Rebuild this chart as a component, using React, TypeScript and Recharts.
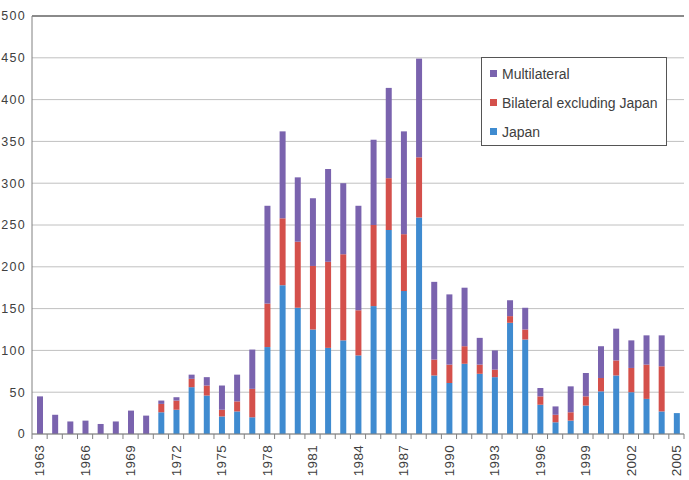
import { BarChart, Bar, XAxis, YAxis, CartesianGrid, Legend, ReferenceLine } from "recharts";

const years = [
  "1963", "1964", "1965", "1966", "1967", "1968", "1969", "1970", "1971", "1972",
  "1973", "1974", "1975", "1976", "1977", "1978", "1979", "1980", "1981", "1982",
  "1983", "1984", "1985", "1986", "1987", "1988", "1989", "1990", "1991", "1992",
  "1993", "1994", "1995", "1996", "1997", "1998", "1999", "2000", "2001", "2002",
  "2003", "2004", "2005",
];

const japan = [
  0, 0, 0, 0, 0, 0, 0, 0,
  26, 29, 56, 46, 21, 27, 20,
  104, 178, 151, 125, 103, 112, 94, 153, 244, 171, 259,
  70, 61, 84, 72, 68, 133, 113,
  35, 14, 16, 34, 51, 70, 50, 42, 27, 25,
];

const bilateral = [
  0, 0, 0, 0, 0, 0, 0, 0,
  10, 11, 10, 12, 8, 12, 34,
  52, 80, 79, 76, 103, 103, 54, 97, 62, 68, 72,
  19, 22, 21, 11, 9, 8, 12,
  10, 9, 10, 11, 16, 18, 29, 41, 54, 0,
];

const multilateral = [
  45, 23, 15, 16, 12, 15, 28, 22,
  4, 4, 5, 10, 29, 32, 47,
  117, 104, 77, 81, 111, 85, 125, 102, 108, 123, 118,
  93, 84, 70, 32, 23, 19, 26,
  10, 10, 31, 28, 38, 38, 33, 35, 37, 0,
];

const yTicks = [0, 50, 100, 150, 200, 250, 300, 350, 400, 450, 500];

const BLUE = "#3f8bd0";
const RED = "#d4504b";
const PURPLE = "#7a63ae";
const TEXT = "#404040";

const legendItems = [
  { name: "Multilateral", color: PURPLE },
  { name: "Bilateral excluding Japan", color: RED },
  { name: "Japan", color: BLUE },
];

const data = years.map((year, i) => ({
  year,
  japan: japan[i],
  bilateral: bilateral[i],
  multilateral: multilateral[i],
}));

// width of one category band (plot area spans 32..684)
const BAND = (684 - 32) / years.length;

function YearTick(props: any) {
  const { x, y, payload } = props;
  const idx = payload.index ?? props.index;
  const left = x - BAND / 2;
  const ty = y + 11;
  return (
    <g>
      <line x1={left} x2={left} y1={y} y2={y + 5} stroke="#808080" />
      {idx === years.length - 1 && (
        <line x1={x + BAND / 2} x2={x + BAND / 2} y1={y} y2={y + 5} stroke="#808080" />
      )}
      {idx % 3 === 0 && (
        <text
          x={x}
          y={ty}
          dy="0.36em"
          transform={`rotate(-90, ${x}, ${ty})`}
          textAnchor="end"
          fill={TEXT}
          fontSize={13.5}
          letterSpacing={0.3}
        >
          {payload.value}
        </text>
      )}
    </g>
  );
}

function LegendBox() {
  return (
    <div
      style={{
        width: 186,
        height: 89,
        boxSizing: "border-box",
        border: "1px solid #555",
        background: "#fff",
        padding: "1px 0 0 8px",
      }}
    >
      {legendItems.map((it) => (
        <div
          key={it.name}
          style={{ display: "flex", alignItems: "center", height: 29, fontSize: 14, color: TEXT }}
        >
          <span style={{ width: 7, height: 7, background: it.color, marginRight: 5, display: "inline-block" }} />
          {it.name}
        </div>
      ))}
    </div>
  );
}

export default function App() {
  return (
    <div
      style={{
        position: "absolute",
        left: 0,
        top: 0,
        width: 689,
        height: 480,
        background: "#fff",
        fontFamily: "'Liberation Sans', Arial, sans-serif",
      }}
    >
      <BarChart
        width={689}
        height={480}
        data={data}
        margin={{ top: 16, right: 5, left: 0, bottom: 0 }}
        barCategoryGap={0}
      >
        <CartesianGrid vertical={false} stroke="#c0c0c0" />
        <XAxis
          dataKey="year"
          interval={0}
          height={46}
          tickSize={0}
          tickMargin={0}
          axisLine={{ stroke: "#808080" }}
          tick={<YearTick />}
        />
        <YAxis
          width={32}
          domain={[0, 500]}
          ticks={yTicks}
          tickLine={false}
          tickSize={0}
          tickMargin={6}
          axisLine={{ stroke: "#808080" }}
          tick={{ fill: TEXT, fontSize: 12.5, letterSpacing: 1.3 }}
          interval={0}
        />
        <YAxis
          yAxisId="frame"
          orientation="right"
          width={0}
          domain={[0, 500]}
          tick={false}
          tickLine={false}
          axisLine={{ stroke: "#c0c0c0" }}
        />
        <ReferenceLine y={500} stroke="#6e6e6e" strokeWidth={1.5} />
        <Legend
          layout="vertical"
          align="center"
          verticalAlign="middle"
          content={<LegendBox />}
          wrapperStyle={{ position: "absolute", left: 481, top: 57, width: 186, height: 89 }}
        />
        <Bar dataKey="japan" stackId="a" fill={BLUE} barSize={6} isAnimationActive={false} />
        <Bar dataKey="bilateral" stackId="a" fill={RED} barSize={6} isAnimationActive={false} />
        <Bar dataKey="multilateral" stackId="a" fill={PURPLE} barSize={6} isAnimationActive={false} />
      </BarChart>
    </div>
  );
}
